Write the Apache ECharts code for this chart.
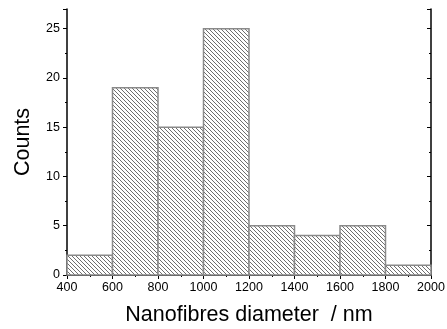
<!DOCTYPE html>
<html>
<head>
<meta charset="utf-8">
<script src="https://cdn.jsdelivr.net/npm/echarts@6/dist/echarts.min.js"></script>
<style>
html,body{margin:0;padding:0;background:#fff;}
#chart{width:447px;height:329px;}
</style>
</head>
<body>
<div id="chart"></div>
<script>
// Histogram bins (nm) and counts
var binStarts = [400, 600, 800, 1000, 1200, 1400, 1600, 1800];
var binEnds   = [600, 800, 1000, 1200, 1400, 1600, 1800, 2000];
var counts    = [2, 19, 15, 25, 5, 4, 5, 1];
var xTitle = 'Nanofibres diameter  / nm';
var yTitle = 'Counts';

// hatch pattern tile
var tile = document.createElement('canvas');
tile.width = 4; tile.height = 4;
var tctx = tile.getContext('2d');
tctx.fillStyle = '#ffffff';
tctx.fillRect(0, 0, 4, 4);
tctx.fillStyle = '#6e6e6e';
for (var i = 0; i < 4; i++) { tctx.fillRect(i, i, 1, 1); }

var data = binStarts.map(function (s, i) { return [s, binEnds[i], counts[i]]; });

var chart = echarts.init(document.getElementById('chart'), null, {renderer: 'canvas'});
var font = 'Liberation Sans, Arial, sans-serif';
var axisLineStyle = {color: '#000', width: 1.5};
var plain = function (v) { return String(v); };

chart.setOption({
  animation: false,
  backgroundColor: '#fff',
  grid: {left: 67, right: 16, top: 9, bottom: 54, containLabel: false, outerBoundsMode: 'none'},
  xAxis: [{
    type: 'value', min: 400, max: 2000, interval: 200, position: 'bottom',
    name: xTitle, nameLocation: 'middle', nameGap: 29,
    nameTextStyle: {fontFamily: font, fontSize: 21.5, color: '#000'},
    axisLine: {show: true, lineStyle: axisLineStyle},
    axisTick: {show: true, inside: false, length: 4, lineStyle: {color: '#000', width: 1}},
    minorTick: {show: true, splitNumber: 2, length: 2, lineStyle: {color: '#000', width: 1}},
    axisLabel: {fontFamily: font, fontSize: 12.5, color: '#000', margin: 6, formatter: plain},
    splitLine: {show: false}
  }, {
    type: 'value', min: 400, max: 2000, interval: 200, position: 'top',
    axisLine: {show: true, lineStyle: axisLineStyle},
    axisTick: {show: true, inside: true, length: 4, lineStyle: {color: '#000', width: 1}},
    minorTick: {show: true, splitNumber: 2, length: 2, lineStyle: {color: '#000', width: 1}},
    axisLabel: {show: false},
    splitLine: {show: false}
  }],
  yAxis: [{
    type: 'value', min: 0, max: 27, interval: 5, position: 'left',
    name: yTitle, nameLocation: 'middle', nameGap: 33,
    nameTextStyle: {fontFamily: font, fontSize: 21.5, color: '#000'},
    axisLine: {show: true, lineStyle: axisLineStyle},
    axisTick: {show: true, inside: false, length: 4, lineStyle: {color: '#000', width: 1}},
    minorTick: {show: true, splitNumber: 2, length: 2, lineStyle: {color: '#000', width: 1}},
    axisLabel: {fontFamily: font, fontSize: 12.5, color: '#000', margin: 7, showMaxLabel: false, formatter: plain},
    splitLine: {show: false}
  }, {
    type: 'value', min: 0, max: 27, interval: 5, position: 'right',
    axisLine: {show: true, lineStyle: axisLineStyle},
    axisTick: {show: true, inside: true, length: 4, lineStyle: {color: '#000', width: 1}},
    minorTick: {show: true, splitNumber: 2, length: 2, lineStyle: {color: '#000', width: 1}},
    axisLabel: {show: false},
    splitLine: {show: false}
  }],
  series: [{
    type: 'custom',
    xAxisIndex: 0, yAxisIndex: 0,
    data: data,
    encode: {x: [0, 1], y: 2},
    renderItem: function (params, api) {
      var p0 = api.coord([api.value(0), 0]);
      var p1 = api.coord([api.value(1), api.value(2)]);
      return {
        type: 'rect',
        shape: {x: p0[0], y: p1[1], width: p1[0] - p0[0], height: p0[1] - p1[1]},
        style: {
          fill: {image: tile, repeat: 'repeat'},
          stroke: '#8a8a8a',
          lineWidth: 1.5
        }
      };
    }
  }]
});
</script>
</body>
</html>
